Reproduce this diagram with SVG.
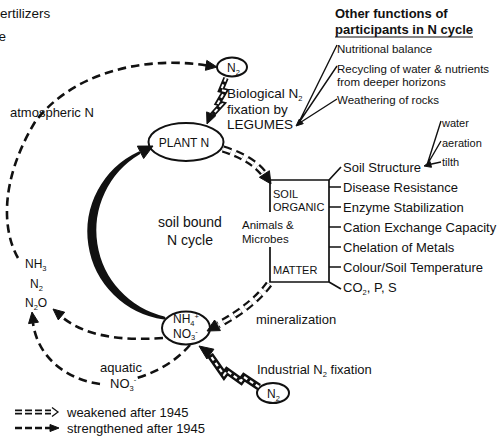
<svg xmlns="http://www.w3.org/2000/svg" width="501" height="436" viewBox="0 0 501 436">
<style>
text{font-family:"Liberation Sans",Arial,Helvetica,sans-serif;fill:#111}
.s11{font-size:11px}
.s115{font-size:11.5px}
.s12{font-size:12px}
.s13{font-size:13px}
.s135{font-size:13.5px}
.s14{font-size:14px}
.b{font-weight:bold}
.sub{font-size:7.5px}
.node{fill:#fff;stroke:#111;stroke-width:2}
.ln{fill:none;stroke:#111;stroke-width:1.7}
.dash{fill:none;stroke:#111;stroke-width:2.6;stroke-dasharray:8.5 5}
.dblb{fill:none;stroke:#111;stroke-width:7.5;stroke-dasharray:8 5}
.dblw{fill:none;stroke:#fff;stroke-width:3;stroke-dasharray:8 5}
.zb{fill:none;stroke:#111;stroke-width:6;stroke-linejoin:miter}
.zw{fill:none;stroke:#fff;stroke-width:2.2;stroke-dasharray:4 3}
.ah{fill:#111;stroke:#111;stroke-width:1;stroke-linejoin:round}
</style>

<!-- free labels -->
<g id="labels">
  <text class="s135" x="0" y="18">ertilizers</text>
  <text class="s135" x="-1.5" y="41">e</text>
  <text class="s13" x="10" y="117">atmospheric N</text>
  <text class="s13 b" x="335" y="18">Other functions of</text>
  <text class="s13 b" x="335" y="34">participants in N cycle</text>
  <line class="ln" x1="335" y1="37" x2="473" y2="37" style="stroke-width:1.2"/>
  <text class="s115" x="337" y="53">Nutritional balance</text>
  <text class="s115" x="337" y="73">Recycling of water &amp; nutrients</text>
  <text class="s115" x="337" y="85.5">from deeper horizons</text>
  <text class="s115" x="337" y="104">Weathering of rocks</text>
  <text class="s135" x="227" y="98">Biological N<tspan class="sub" dy="3">2</tspan></text>
  <text class="s135" x="227" y="113.5">fixation by</text>
  <text class="s135" x="227" y="129">LEGUMES</text>
  <text class="s11" x="442" y="127">water</text>
  <text class="s11" x="442" y="147">aeration</text>
  <text class="s11" x="442" y="166">tilth</text>
  <text class="s13" x="343" y="172">Soil Structure</text>
  <text class="s13" x="343" y="191.5">Disease Resistance</text>
  <text class="s13" x="343" y="211.5">Enzyme Stabilization</text>
  <text class="s13" x="343" y="231.5">Cation Exchange Capacity</text>
  <text class="s13" x="343" y="251.5">Chelation of Metals</text>
  <text class="s13" x="343" y="271.5">Colour/Soil Temperature</text>
  <text class="s13" x="343" y="291.5">CO<tspan class="sub" dy="3">2</tspan><tspan dy="-3">, P, S</tspan></text>
  <text class="s14" x="190" y="227" text-anchor="middle">soil bound</text>
  <text class="s14" x="190" y="245" text-anchor="middle">N cycle</text>
  <text class="s13" x="256" y="324">mineralization</text>
  <text class="s13" x="257" y="373.5">Industrial N<tspan class="sub" dy="3">2</tspan><tspan dy="-3"> fixation</tspan></text>
  <text class="s12" x="25" y="268">NH<tspan class="sub" dy="3">3</tspan></text>
  <text class="s12" x="30" y="288">N<tspan class="sub" dy="3">2</tspan></text>
  <text class="s12" x="25" y="307">N<tspan class="sub" dy="3">2</tspan><tspan dy="-3">O</tspan></text>
  <text class="s13" x="100" y="371.5">aquatic</text>
  <text class="s13" x="110" y="388">NO<tspan class="sub" dy="3">3</tspan><tspan class="sub" dy="-9">-</tspan></text>
</g>

<!-- nodes -->
<g id="node-n2-top">
  <ellipse class="node" cx="232" cy="67" rx="15" ry="9.5"/>
  <text class="s12" x="227" y="71.5">N<tspan class="sub" dy="3">2</tspan></text>
</g>
<g id="node-plant-n">
  <ellipse class="node" cx="186" cy="142" rx="37.5" ry="19"/>
  <text class="s12" x="184" y="147" text-anchor="middle">PLANT N</text>
</g>
<g id="node-nh4-no3">
  <ellipse class="node" cx="186" cy="328" rx="24" ry="16.5"/>
  <text class="s12" x="173" y="323">NH<tspan class="sub" dy="2.5">4</tspan><tspan class="sub" dy="-7">+</tspan></text>
  <text class="s12" x="173" y="338">NO<tspan class="sub" dy="2">3</tspan><tspan class="sub" dy="-6.5">-</tspan></text>
</g>
<g id="node-n2-bottom">
  <ellipse class="node" cx="273" cy="393" rx="16" ry="10"/>
  <text class="s12" x="267" y="397.5">N<tspan class="sub" dy="3">2</tspan></text>
</g>
<g id="node-soil-organic-matter">
  <path class="ln" d="M270 212 V180 H329 V282 H270 V247"/>
  <path class="ln" d="M329 187 H341 M329 207 H341 M329 227 H341 M329 247 H341 M329 267 H341 M329 180 L341 167 M329 282 L341 289"/>
  <text class="s11" x="273" y="197.5">SOIL</text>
  <text class="s11" x="273" y="211">ORGANIC</text>
  <text class="s11" x="273" y="274">MATTER</text>
  <text class="s115" x="242" y="229">Animals &amp;</text>
  <text class="s115" x="242" y="243">Microbes</text>
</g>

<!-- connectors -->
<g id="connectors">
  <!-- atmospheric N (strengthened) -->
  <path class="dash" d="M18 258 C2 230 0 180 35 122 C70 75 140 55 207 65.5"/>
  <polygon class="ah" points="217,67 205.4,70.3 206.8,60.4"/>
  <!-- biological fixation -->
  <path class="zb" d="M226 78 L221 90 L225 91 L218 103 L222 104 L212 115" style="stroke-width:5.5"/>
  <path class="zw" d="M226 78 L221 90 L225 91 L218 103 L222 104 L212 115" style="stroke-width:2"/>
  <polygon class="ah" points="207,124 215.8,115.7 206.6,111.9"/>
  <!-- LEGUMES functions -->
  <path class="ln" d="M298 124 L337 45 M298 124 L337 66 M298 124 L337 99" style="stroke-width:1.4"/>
  <polygon class="ah" points="296,126 299.25,119.15 303.25,123.65"/>
  <!-- soil structure -->
  <path class="ln" d="M427 165 L441 121 M427 165 L441 141 M427 165 L441 162" style="stroke-width:1.4"/>
  <polygon class="ah" points="424,166 430.1,161.5 431.5,167.3"/>
  <!-- thick soil-bound arc -->
  <path class="ah" d="M164 318 A87 87 0 0 1 139 153 A90 90 0 0 0 164 318 Z" style="stroke-width:3"/>
  <polygon class="ah" points="153,146 143.65,158.5 137.35,146.1"/>
  <!-- plant N to soil organic (weakened) -->
  <path class="dblb" d="M223 149 Q252 158 264 174"/>
  <path class="dblw" d="M223 149 Q252 158 264 174"/>
  <polygon class="ah" points="271,184 259.4,177.3 269.4,170.7"/>
  <!-- mineralization (weakened) -->
  <path class="dblb" d="M269 284 Q253 306 218 325"/>
  <path class="dblw" d="M269 284 Q253 306 218 325"/>
  <polygon class="ah" points="207,331 214.6,320 220.4,330.6"/>
  <!-- NH4 to gaseous -->
  <path class="dash" d="M163 338 C120 341 85 336 62 317"/>
  <polygon class="ah" points="53,309 64.7,312.2 58.3,319.9"/>
  <!-- NH4 to aquatic to N2O -->
  <path class="dash" d="M190 345 Q170 368 137 378"/>
  <path class="dash" d="M100 384 C70 380 38 360 33 323"/>
  <polygon class="ah" points="32,312 38.45,322.2 28.55,323.6"/>
  <!-- industrial fixation -->
  <path class="zb" d="M259 387 L244 377 L241 381 L227 371 L224 375 L210 355" style="stroke-width:7"/>
  <path class="zw" d="M259 387 L244 377 L241 381 L227 371 L224 375 L210 355"/>
  <polygon class="ah" points="199,346 213.9,349.2 206.9,359"/>
</g>

<!-- legend -->
<g id="legend">
  <path class="dblb" d="M15 412 H51" style="stroke-width:5;stroke-dasharray:7 3"/>
  <path class="dblw" d="M15 412 H51" style="stroke-width:1.6;stroke-dasharray:7 3"/>
  <path class="ln" d="M52 407.5 L58 412 L52 416.5" style="stroke-width:1.3"/>
  <text class="s13" x="67" y="416.5">weakened after 1945</text>
  <path class="dash" d="M15 428 H50" style="stroke-width:2.6;stroke-dasharray:7 3"/>
  <polygon class="ah" points="59,428 50,424.5 50,431.5"/>
  <text class="s13" x="67" y="433">strengthened after 1945</text>
</g>
</svg>
